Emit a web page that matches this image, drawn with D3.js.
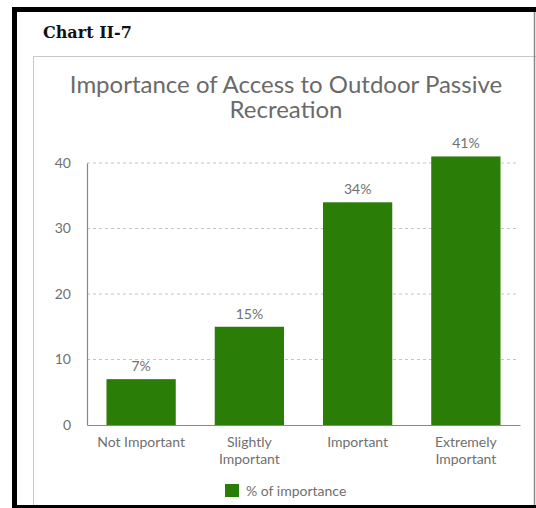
<!DOCTYPE html>
<html>
<head>
<meta charset="utf-8">
<title>Chart II-7</title>
<style>
  body { margin: 0; background: #fff; }
</style>
</head>
<body>
<script src="https://cdn.jsdelivr.net/npm/d3@7/dist/d3.min.js"></script>
<script>
// chart data
const categories = ["Not Important", "Slightly Important", "Important", "Extremely Important"];
const values = [7, 15, 34, 41];
const yTicks = [0, 10, 20, 30, 40];
const seriesName = "% of importance";
const chartTitle = ["Importance of Access to Outdoor Passive", "Recreation"];
const heading = "Chart II-7";

const width = 536, height = 508;
const font = "Lato, 'Open Sans', sans-serif";
const green = "#2a7e08";
const grey = "#707070";

const svg = d3.select("body").append("svg")
    .attr("width", width)
    .attr("height", height);

svg.append("rect").attr("width", width).attr("height", height).attr("fill", "#fff");

// inner panel
svg.append("rect")
    .attr("x", 33.5).attr("y", 56.5).attr("width", 520).attr("height", 470)
    .attr("fill", "#fff").attr("stroke", "#c8c8c8");

// outer black frame (drawn over the panel)
svg.append("rect").attr("x", 12).attr("y", 7).attr("width", 524).attr("height", 5).attr("fill", "#000");
svg.append("rect").attr("x", 12).attr("y", 7).attr("width", 5).attr("height", 501).attr("fill", "#000");
svg.append("rect").attr("x", 12).attr("y", 505).attr("width", 524).attr("height", 3).attr("fill", "#000");
svg.append("line").attr("x1", 534.5).attr("x2", 534.5).attr("y1", 12).attr("y2", 505)
    .attr("stroke", "#888").attr("stroke-width", 1.5);

svg.append("text")
    .attr("x", 43).attr("y", 38)
    .attr("font-family", "'DejaVu Serif', serif")
    .attr("font-weight", "bold")
    .attr("font-size", 16)
    .attr("fill", "#111")
    .text(heading);

svg.selectAll("text.title")
    .data(chartTitle)
    .enter().append("text")
    .attr("class", "title")
    .attr("x", 286)
    .attr("y", (d, i) => 93 + i * 25)
    .attr("text-anchor", "middle")
    .attr("font-family", font)
    .attr("font-size", 24)
    .attr("fill", "#6a6a6a")
    .text(d => d);

const x = d3.scaleBand()
    .domain(categories)
    .range([87, 520])
    .paddingInner(0.36)
    .paddingOuter(0.18);

const y = d3.scaleLinear()
    .domain([0, 40])
    .range([425, 163]);

// gridlines
svg.append("g")
    .selectAll("line")
    .data(yTicks.filter(d => d > 0))
    .enter().append("line")
    .attr("x1", 87).attr("x2", 518)
    .attr("y1", d => y(d)).attr("y2", d => y(d))
    .attr("stroke", "#c4c4c4")
    .attr("stroke-dasharray", "3,3");

// y axis
const yAxis = svg.append("g")
    .attr("transform", "translate(87,0)")
    .call(d3.axisLeft(y).tickValues(yTicks).tickSize(0).tickPadding(16));
yAxis.select(".domain").attr("stroke", "#888").attr("stroke-width", 1.2);
yAxis.selectAll("text").attr("font-family", font).attr("font-size", 14).attr("fill", grey);

// bars
svg.append("g")
    .selectAll("rect")
    .data(values)
    .enter().append("rect")
    .attr("x", (d, i) => x(categories[i]))
    .attr("y", d => y(d))
    .attr("width", x.bandwidth())
    .attr("height", d => y(0) - y(d))
    .attr("fill", green);

// value labels
svg.append("g")
    .selectAll("text")
    .data(values)
    .enter().append("text")
    .attr("x", (d, i) => x(categories[i]) + x.bandwidth() / 2)
    .attr("y", d => y(d) - 8)
    .attr("text-anchor", "middle")
    .attr("font-family", font)
    .attr("font-size", 14)
    .attr("fill", grey)
    .text(d => d + "%");

// x axis
const xAxis = svg.append("g")
    .attr("transform", "translate(0," + y(0) + ")")
    .call(d3.axisBottom(x).tickSize(0).tickPadding(12));
xAxis.select(".domain").attr("stroke", "#888").attr("stroke-width", 1.2);
xAxis.selectAll("text")
    .attr("font-family", font)
    .attr("font-size", 14)
    .attr("fill", grey)
    .each(function(d) {
        const t = d3.select(this);
        const words = d.split(" ");
        if (words.length > 1 && d !== "Not Important") {
            t.text(null);
            t.append("tspan").attr("x", 0).attr("dy", "0.71em").text(words[0]);
            t.append("tspan").attr("x", 0).attr("dy", "1.2em").text(words.slice(1).join(" "));
            t.attr("dy", null);
        }
    });

// legend
const legend = svg.append("g").attr("transform", "translate(225,484)");
legend.append("rect").attr("width", 14).attr("height", 13).attr("fill", green);
legend.append("text")
    .attr("x", 21).attr("y", 12)
    .attr("font-family", font)
    .attr("font-size", 14)
    .attr("fill", grey)
    .text(seriesName);
</script>
</body>
</html>
